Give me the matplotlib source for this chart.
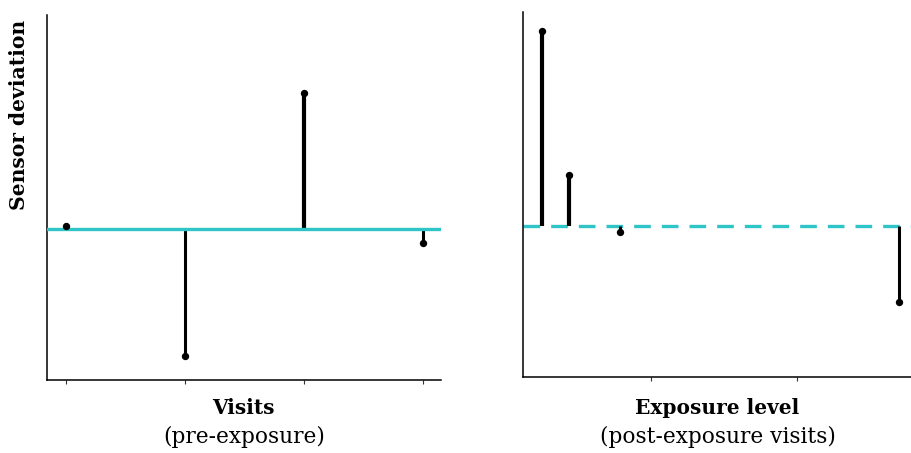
import matplotlib.pyplot as plt

# left panel: pre-exposure visits
pre_visits = [1, 2, 3, 4]
pre_dev = [0.3, -12.7, 13.6, -1.4]

# right panel: exposure level of post-exposure visits
post_level = [0.25, 0.44, 0.79, 2.70]
post_dev = [19.5, 5.1, -0.6, -7.6]

post_ticks = [1, 2]

cyan = '#2fc4c8'
serif = ['DejaVu Serif']
plt.rcParams['font.family'] = serif

fig = plt.figure(figsize=(9.12, 4.53), dpi=100)
W, H = 912, 453


def add_ax(x0, y0, x1, y1):
    return fig.add_axes([x0 / W, (H - y1) / H, (x1 - x0) / W, (y1 - y0) / H])


def stems(ax, xs, ys):
    for x, y in zip(xs, ys):
        lw = 3.0 if y > 0 else 2.2
        ax.plot([x, x], [0, y], color='black', lw=lw, solid_capstyle='butt', zorder=2)
    ax.scatter(xs, ys, s=28, color='black', zorder=4, linewidths=0)


def style(ax):
    for s in ['top', 'right']:
        ax.spines[s].set_visible(False)
    for s in ['left', 'bottom']:
        ax.spines[s].set_linewidth(1.1)
    ax.set_yticks([])
    ax.tick_params(axis='x', length=3, width=0.8, labelbottom=False, color='#333333')


ax1 = add_ax(46.7, 15, 441, 380)
ax1.axhline(0, color=cyan, lw=2.4, zorder=3)
stems(ax1, pre_visits, pre_dev)
ax1.set_xticks(pre_visits)
ax1.set_xlim(0.84, 4.15)
ax1.set_ylim(-15.07, 21.4)
style(ax1)

ax2 = add_ax(523.3, 11.7, 912, 376.7)
ax2.axhline(0, color=cyan, lw=2.4, ls=(0, (5, 3.3)), zorder=1)
stems(ax2, post_level, post_dev)
ax2.set_xticks(post_ticks)
ax2.set_xlim(0.125, 2.788)
ax2.set_ylim(-15.04, 21.46)
style(ax2)

fig.text(19 / W, 1 - 115 / H, 'Sensor deviation', rotation=90, ha='center', va='center',
         fontsize=14.6, fontweight='bold')

for cx, t1, t2 in [(243.8, 'Visits', '(pre-exposure)'),
                   (717.6, 'Exposure level', '(post-exposure visits)')]:
    fig.text(cx / W, 1 - 408 / H, t1, ha='center', va='center', fontsize=14.5, fontweight='bold')
    fig.text(cx / W, 1 - 437 / H, t2, ha='center', va='center', fontsize=15.6)

fig.savefig('out.png', dpi=100)
